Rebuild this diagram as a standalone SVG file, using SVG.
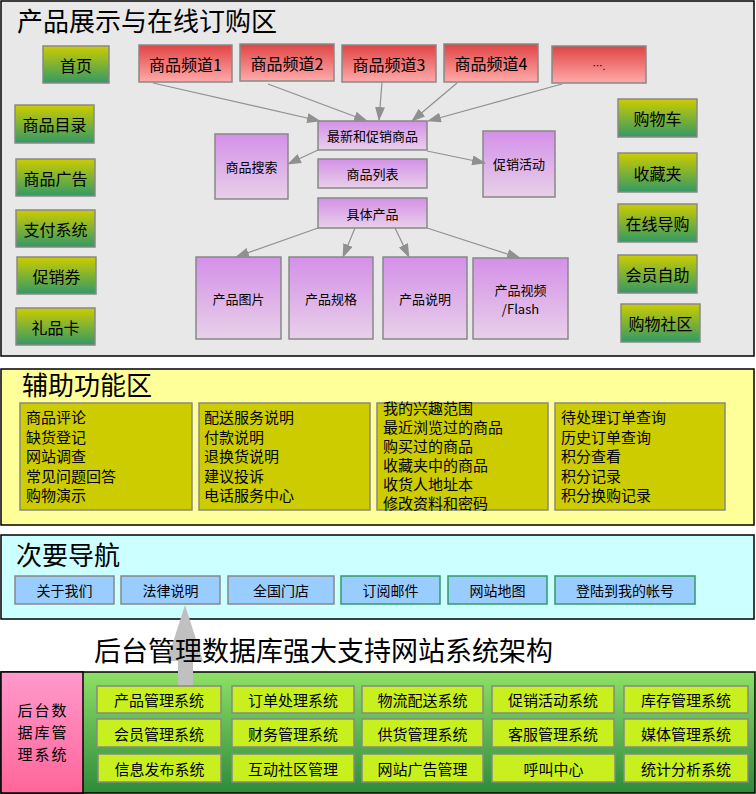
<svg xmlns="http://www.w3.org/2000/svg" width="756" height="794" viewBox="0 0 756 794">
<defs>
<linearGradient id="gGreen" x1="0" y1="0" x2="0" y2="1"><stop offset="0" stop-color="#CCCC00"/><stop offset="1" stop-color="#339966"/></linearGradient>
<linearGradient id="gRed" x1="0" y1="0" x2="0" y2="1"><stop offset="0" stop-color="#E04444"/><stop offset="1" stop-color="#FFAAAA"/></linearGradient>
<linearGradient id="gPurple" x1="0" y1="0" x2="0" y2="1"><stop offset="0" stop-color="#D490E8"/><stop offset="1" stop-color="#E8D0E8"/></linearGradient>
<linearGradient id="gBack" x1="0" y1="0" x2="0" y2="1"><stop offset="0" stop-color="#8EE066"/><stop offset="1" stop-color="#2E8B3A"/></linearGradient>
<linearGradient id="gPink" x1="0" y1="0" x2="0" y2="1"><stop offset="0" stop-color="#FF99CC"/><stop offset="1" stop-color="#FF6699"/></linearGradient>
<marker id="ah" markerUnits="userSpaceOnUse" markerWidth="14" markerHeight="10" refX="13" refY="5" orient="auto"><path d="M0,0 L14,5 L0,10 z" fill="#909090"/></marker>
</defs>
<style>
text{font-family:"Noto Sans CJK SC","Liberation Sans",sans-serif;fill:#000}
.sec{stroke:#000;stroke-width:1.5}
.title{font-size:26px}
.nd{stroke:#888;stroke-width:1.5}
.g{fill:url(#gGreen)}
.r{fill:url(#gRed)}
.p{fill:url(#gPurple)}
.ol{fill:#CCCC00}
.bl{fill:#99CCFF}
.lm{fill:#C8F01E}
.t16{font-size:16px}
.t15{font-size:15px}
.t14{font-size:14px}
.t13{font-size:13px}
.c{text-anchor:middle;dominant-baseline:central}
.pk{font-size:15px;letter-spacing:2px}
.cn line{stroke:#909090;stroke-width:1.2;marker-end:url(#ah)}
</style>
<!-- Section 1 -->
<rect class="sec" x="1" y="1" width="753" height="355" fill="#E8E8E8"/>
<text class="title" x="17" y="31">产品展示与在线订购区</text>
<g id="n-home"><rect class="nd g" x="43" y="46" width="66" height="37"/><text class="t16 c" x="76" y="64.5">首页</text></g>
<g id="n-catalog"><rect class="nd g" x="15" y="105" width="79" height="38"/><text class="t16 c" x="54.5" y="124">商品目录</text></g>
<g id="n-ads"><rect class="nd g" x="16" y="159" width="79" height="37"/><text class="t16 c" x="55.5" y="177.5">商品广告</text></g>
<g id="n-pay"><rect class="nd g" x="16" y="210" width="79" height="37"/><text class="t16 c" x="55.5" y="228.5">支付系统</text></g>
<g id="n-coupon"><rect class="nd g" x="17" y="257" width="79" height="37"/><text class="t16 c" x="56.5" y="275.5">促销券</text></g>
<g id="n-gift"><rect class="nd g" x="16" y="308" width="79" height="37"/><text class="t16 c" x="55.5" y="326.5">礼品卡</text></g>
<g id="n-cart"><rect class="nd g" x="618" y="99" width="79" height="38"/><text class="t16 c" x="657.5" y="118">购物车</text></g>
<g id="n-fav"><rect class="nd g" x="618" y="153" width="79" height="39"/><text class="t16 c" x="657.5" y="172.5">收藏夹</text></g>
<g id="n-guide"><rect class="nd g" x="618" y="204" width="79" height="38"/><text class="t16 c" x="657.5" y="223">在线导购</text></g>
<g id="n-member"><rect class="nd g" x="618" y="255" width="79" height="38"/><text class="t16 c" x="657.5" y="274">会员自助</text></g>
<g id="n-community"><rect class="nd g" x="621" y="304" width="79" height="38"/><text class="t16 c" x="660.5" y="323">购物社区</text></g>
<g id="n-ch1"><rect class="nd r" x="139" y="45" width="93" height="37"/><text class="t16 c" x="185.5" y="63.5">商品频道1</text></g>
<g id="n-ch2"><rect class="nd r" x="240" y="44" width="94" height="37"/><text class="t16 c" x="287" y="62.5">商品频道2</text></g>
<g id="n-ch3"><rect class="nd r" x="342" y="45" width="94" height="37"/><text class="t16 c" x="389" y="63.5">商品频道3</text></g>
<g id="n-ch4"><rect class="nd r" x="444" y="44" width="94" height="38"/><text class="t16 c" x="491" y="63">商品频道4</text></g>
<g id="n-more"><rect class="nd r" x="552" y="46" width="94" height="37"/><text class="c" x="599" y="65" font-size="10px">….</text></g>
<g id="n-new"><rect class="nd p" x="318" y="121" width="109" height="29"/><text class="t13 c" x="372.5" y="135.5">最新和促销商品</text></g>
<g id="n-search"><rect class="nd p" x="215" y="134" width="73" height="65"/><text class="t13 c" x="251.5" y="166.5">商品搜索</text></g>
<g id="n-list"><rect class="nd p" x="318" y="159" width="109" height="29"/><text class="t13 c" x="372.5" y="173.5">商品列表</text></g>
<g id="n-promo"><rect class="nd p" x="483" y="131" width="72" height="66"/><text class="t13 c" x="519" y="163">促销活动</text></g>
<g id="n-product"><rect class="nd p" x="318" y="198" width="109" height="30"/><text class="t13 c" x="372.5" y="213">具体产品</text></g>
<g id="n-pic"><rect class="nd p" x="196" y="257" width="85" height="82"/><text class="t13 c" x="238.5" y="298">产品图片</text></g>
<g id="n-spec"><rect class="nd p" x="289" y="257" width="84" height="82"/><text class="t13 c" x="331" y="298">产品规格</text></g>
<g id="n-desc"><rect class="nd p" x="383" y="257" width="84" height="82"/><text class="t13 c" x="425" y="298">产品说明</text></g>
<g id="n-video"><rect class="nd p" x="473" y="258" width="95" height="81"/><text class="t13 c" x="520.5"><tspan x="520.5" y="288.5">产品视频</tspan><tspan x="520.5" y="307.5">/Flash</tspan></text></g>
<g id="connectors" class="cn">
<line x1="153" y1="83" x2="320" y2="121"/>
<line x1="268" y1="84" x2="367" y2="121"/>
<line x1="382" y1="82" x2="379" y2="120"/>
<line x1="457" y1="83" x2="412" y2="121"/>
<line x1="562" y1="84" x2="428" y2="121"/>
<line x1="318" y1="150" x2="288" y2="164"/>
<line x1="427" y1="151" x2="485" y2="163"/>
<line x1="318" y1="228" x2="236" y2="257"/>
<line x1="355" y1="228" x2="343" y2="257"/>
<line x1="395" y1="228" x2="409" y2="257"/>
<line x1="427" y1="228" x2="520" y2="258"/>
</g>
<!-- Section 2 -->
<rect class="sec" x="1" y="369" width="753" height="156" fill="#FFFF99"/>
<text class="title" x="22" y="395">辅助功能区</text>
<g id="n-aux1"><rect class="nd ol" x="20" y="403" width="172" height="107"/>
<text class="t15" x="26"><tspan x="26" y="423">商品评论</tspan><tspan x="26" y="442.5">缺货登记</tspan><tspan x="26" y="462">网站调查</tspan><tspan x="26" y="481.5">常见问题回答</tspan><tspan x="26" y="501">购物演示</tspan></text></g>
<g id="n-aux2"><rect class="nd ol" x="199" y="403" width="171" height="107"/>
<text class="t15" x="204"><tspan x="204" y="423">配送服务说明</tspan><tspan x="204" y="442.5">付款说明</tspan><tspan x="204" y="462">退换货说明</tspan><tspan x="204" y="481.5">建议投诉</tspan><tspan x="204" y="501">电话服务中心</tspan></text></g>
<g id="n-aux3"><rect class="nd ol" x="377" y="403" width="171" height="107"/>
<text class="t15" x="383"><tspan x="383" y="414">我的兴趣范围</tspan><tspan x="383" y="433">最近浏览过的商品</tspan><tspan x="383" y="452">购买过的商品</tspan><tspan x="383" y="471">收藏夹中的商品</tspan><tspan x="383" y="490">收货人地址本</tspan><tspan x="383" y="509">修改资料和密码</tspan></text></g>
<g id="n-aux4"><rect class="nd ol" x="555" y="403" width="170" height="107"/>
<text class="t15" x="561"><tspan x="561" y="423">待处理订单查询</tspan><tspan x="561" y="442.5">历史订单查询</tspan><tspan x="561" y="462">积分查看</tspan><tspan x="561" y="481.5">积分记录</tspan><tspan x="561" y="501">积分换购记录</tspan></text></g>
<!-- Section 3 -->
<rect class="sec" x="1" y="535" width="753" height="84" fill="#CCFFFF"/>
<text class="title" x="16" y="565">次要导航</text>
<g id="n-about"><rect class="nd bl" x="15" y="576" width="99" height="28"/><text class="t14 c" x="64.5" y="590">关于我们</text></g>
<g id="n-legal"><rect class="nd bl" x="121" y="576" width="99" height="28"/><text class="t14 c" x="170.5" y="590">法律说明</text></g>
<g id="n-stores"><rect class="nd bl" x="228" y="576" width="106" height="28"/><text class="t14 c" x="281" y="590">全国门店</text></g>
<g id="n-mail"><rect class="bl" stroke="#339966" stroke-width="1.5" x="341" y="576" width="99" height="28"/><text class="t14 c" x="390.5" y="590">订阅邮件</text></g>
<g id="n-sitemap"><rect class="bl" stroke="#339966" stroke-width="1.5" x="448" y="576" width="99" height="28"/><text class="t14 c" x="497.5" y="590">网站地图</text></g>
<g id="n-login"><rect class="bl" stroke="#339966" stroke-width="1.5" x="555" y="576" width="140" height="28"/><text class="t14 c" x="625" y="590">登陆到我的帐号</text></g>
<!-- Section 4 -->
<rect class="sec" x="1" y="672" width="754" height="121" fill="url(#gBack)"/>
<g id="n-bigarrow"><path d="M185,605 L203,661 L193,661 L193,686 L178,686 L178,661 L167,661 z" fill="#C0C0C0"/></g>
<text x="94" y="661" font-size="27px">后台管理数据库强大支持网站系统架构</text>
<g id="n-backend"><rect class="sec" x="1" y="672" width="82" height="121" fill="url(#gPink)"/>
<text class="pk c" x="43"><tspan x="43" y="709">后台数</tspan><tspan x="43" y="731">据库管</tspan><tspan x="43" y="753">理系统</tspan></text></g>
<g id="n-sys">
<rect class="nd lm" x="97" y="686" width="124" height="27"/><text class="t15 c" x="159" y="699.5">产品管理系统</text>
<rect class="nd lm" x="232" y="686" width="122" height="27"/><text class="t15 c" x="293" y="699.5">订单处理系统</text>
<rect class="nd lm" x="362" y="686" width="121" height="27"/><text class="t15 c" x="422.5" y="699.5">物流配送系统</text>
<rect class="nd lm" x="492" y="686" width="122" height="27"/><text class="t15 c" x="553" y="699.5">促销活动系统</text>
<rect class="nd lm" x="624" y="686" width="124" height="27"/><text class="t15 c" x="686" y="699.5">库存管理系统</text>
<rect class="nd lm" x="97" y="719" width="124" height="28"/><text class="t15 c" x="159" y="733">会员管理系统</text>
<rect class="nd lm" x="232" y="719" width="122" height="28"/><text class="t15 c" x="293" y="733">财务管理系统</text>
<rect class="nd lm" x="362" y="719" width="121" height="28"/><text class="t15 c" x="422.5" y="733">供货管理系统</text>
<rect class="nd lm" x="492" y="719" width="122" height="28"/><text class="t15 c" x="553" y="733">客服管理系统</text>
<rect class="nd lm" x="624" y="719" width="124" height="28"/><text class="t15 c" x="686" y="733">媒体管理系统</text>
<rect class="nd lm" x="98" y="754" width="123" height="28"/><text class="t15 c" x="159.5" y="768">信息发布系统</text>
<rect class="nd lm" x="232" y="754" width="122" height="28"/><text class="t15 c" x="293" y="768">互动社区管理</text>
<rect class="nd lm" x="362" y="754" width="121" height="28"/><text class="t15 c" x="422.5" y="768">网站广告管理</text>
<rect class="nd lm" x="492" y="754" width="123" height="28"/><text class="t15 c" x="553.5" y="768">呼叫中心</text>
<rect class="nd lm" x="624" y="754" width="124" height="28"/><text class="t15 c" x="686" y="768">统计分析系统</text>
</g>
</svg>
